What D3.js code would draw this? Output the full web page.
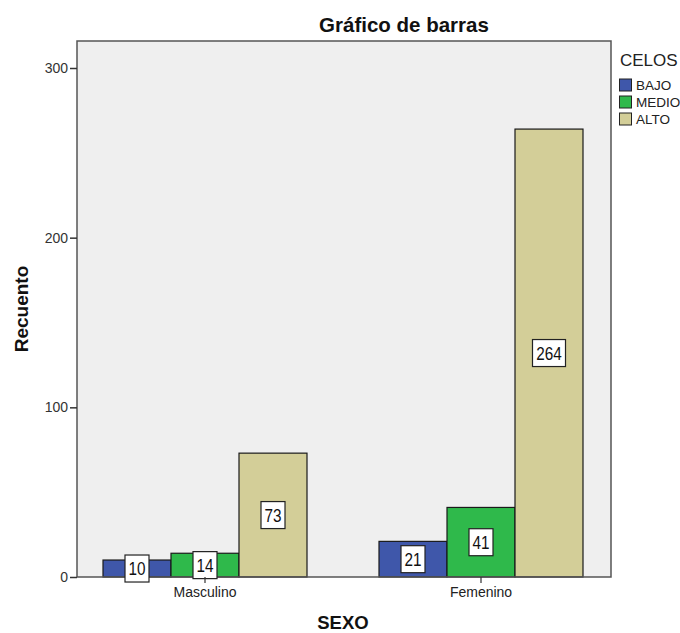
<!DOCTYPE html>
<html><head><meta charset="utf-8">
<script src="https://cdn.jsdelivr.net/npm/d3@7"></script>
<style>body{margin:0;background:#fff;} text{font-family:"Liberation Sans",Arial,sans-serif;}</style>
</head><body>
<svg id="c" width="680" height="633"></svg>
<script>
const categories = ["Masculino", "Femenino"];
const seriesNames = ["BAJO", "MEDIO", "ALTO"];
const BAJO = [10, 21];
const MEDIO = [14, 41];
const ALTO = [73, 264];
const yTicks = [0, 100, 200, 300];
const colors = ["#3f57aa", "#2fb94b", "#d3ce98"];

const svg = d3.select("#c");
const plot = {l: 77, t: 41, r: 611, b: 577};
const y = d3.scaleLinear().domain([0, 300]).range([577, 68]);
const x0 = d3.scaleBand().domain(categories).range([103, 583]).paddingInner(72/276).paddingOuter(0);
const x1 = d3.scaleBand().domain(seriesNames).range([0, x0.bandwidth()]);
const seriesVals = {BAJO, MEDIO, ALTO};

svg.append("rect").attr("x", plot.l).attr("y", plot.t).attr("width", plot.r - plot.l).attr("height", plot.b - plot.t)
  .attr("fill", "#efefef");

// bars
categories.forEach((c, i) => {
  seriesNames.forEach((s, j) => {
    const v = seriesVals[s][i];
    svg.append("rect")
      .attr("x", x0(c) + x1(s)).attr("y", y(v))
      .attr("width", x1.bandwidth()).attr("height", y(0) - y(v))
      .attr("fill", colors[j]).attr("stroke", "#1a1a1a").attr("stroke-width", 1.2);
  });
});

// frame
svg.append("rect").attr("x", plot.l).attr("y", plot.t).attr("width", plot.r - plot.l).attr("height", plot.b - plot.t)
  .attr("fill", "none").attr("stroke", "#555").attr("stroke-width", 1.5);

// value label boxes
categories.forEach((c, i) => {
  seriesNames.forEach((s, j) => {
    const v = seriesVals[s][i];
    const cx = x0(c) + x1(s) + x1.bandwidth() / 2;
    const cy = y(v / 2);
    const str = String(v);
    const w = str.length * 9 + 6;
    const h = 27;
    svg.append("rect").attr("x", cx - w / 2).attr("y", cy - h / 2).attr("width", w).attr("height", h)
      .attr("fill", "#fff").attr("stroke", "#222").attr("stroke-width", 1.2);
    svg.append("text").attr("x", cx).attr("y", cy).attr("dy", "0.36em")
      .attr("text-anchor", "middle").attr("font-size", 17).attr("fill", "#111")
      .attr("transform", `translate(${cx},${cy}) scale(0.9,1.1) translate(${-cx},${-cy})`)
      .text(str);
  });
});

// y axis
const yAxis = d3.axisLeft(y).tickValues(yTicks).tickSize(7).tickPadding(2).tickFormat(d3.format("d"));
const ya = svg.append("g").attr("transform", `translate(${plot.l},0)`).call(yAxis);
ya.select(".domain").remove();
ya.selectAll("line").attr("stroke", "#333").attr("stroke-width", 1.5);
ya.selectAll("text").attr("font-size", 14).attr("fill", "#333").attr("font-family", "Liberation Sans, Arial, sans-serif");

// x axis
const xAxis = d3.axisBottom(x0).tickSize(6).tickPadding(4);
const xa = svg.append("g").attr("transform", `translate(0,${plot.b})`).call(xAxis);
xa.select(".domain").remove();
xa.selectAll("line").attr("stroke", "#333").attr("stroke-width", 1.2);
xa.selectAll("text").attr("font-size", 14).attr("fill", "#222").attr("font-family", "Liberation Sans, Arial, sans-serif");

// titles
svg.append("text").attr("x", 404).attr("y", 32).attr("text-anchor", "middle")
  .attr("font-size", 20.5).attr("font-weight", "bold").attr("fill", "#111").text("Gráfico de barras");
svg.append("text").attr("x", 343).attr("y", 629).attr("text-anchor", "middle")
  .attr("font-size", 18.5).attr("font-weight", "bold").attr("fill", "#111").text("SEXO");
svg.append("text").attr("transform", "translate(28,309) rotate(-90)").attr("text-anchor", "middle")
  .attr("font-size", 19).attr("font-weight", "bold").attr("fill", "#111").text("Recuento");

// legend
svg.append("text").attr("x", 620).attr("y", 66).attr("font-size", 17).attr("fill", "#222").text("CELOS");
seriesNames.forEach((s, j) => {
  const yy = 79 + j * 17;
  svg.append("rect").attr("x", 619.5).attr("y", yy).attr("width", 12).attr("height", 12)
    .attr("fill", colors[j]).attr("stroke", "#222").attr("stroke-width", 1);
  svg.append("text").attr("x", 636).attr("y", yy + 11).attr("font-size", 13.5).attr("fill", "#222").text(s);
});
</script>
</body></html>
